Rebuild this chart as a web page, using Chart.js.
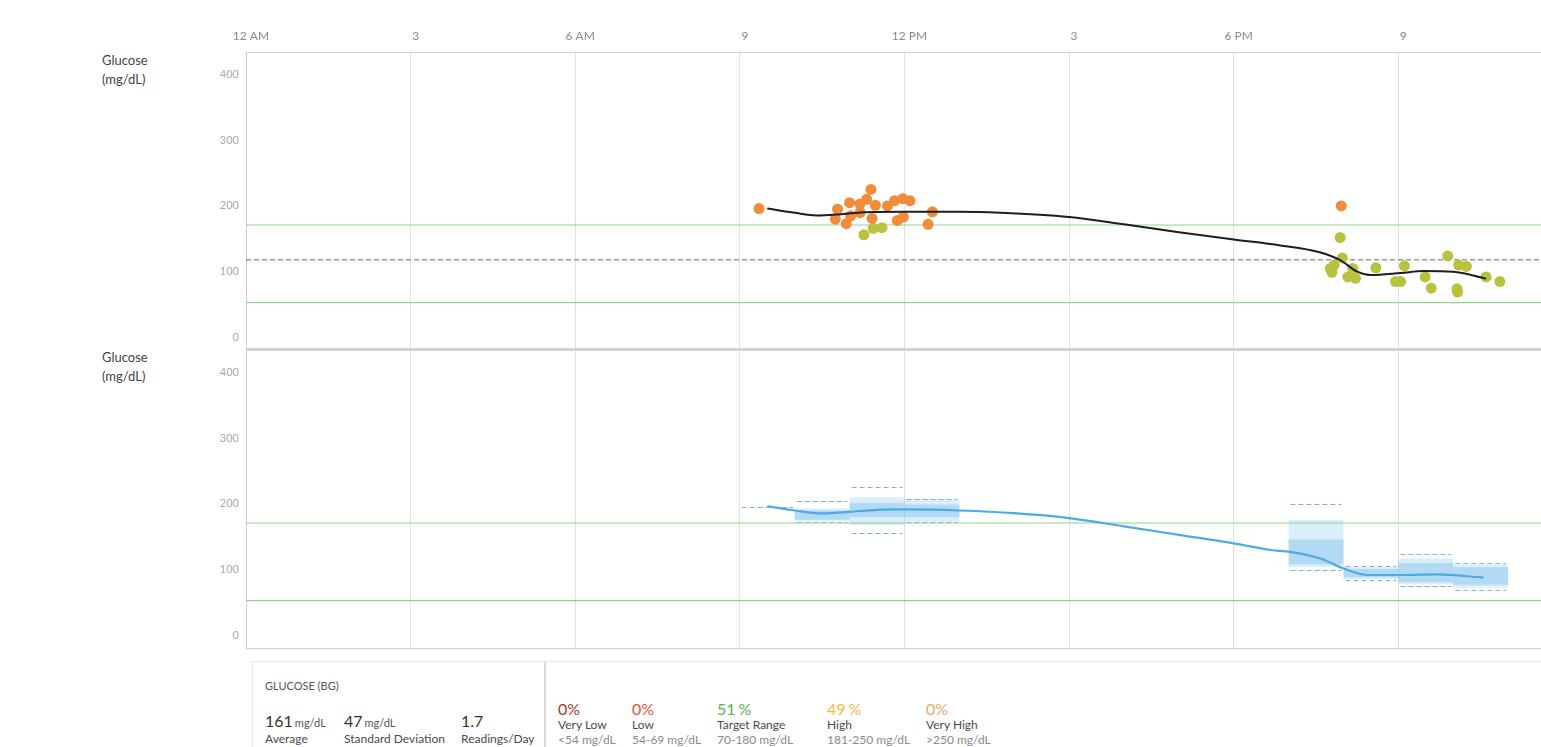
<!DOCTYPE html>
<html>
<head>
<meta charset="utf-8">
<script src="https://cdn.jsdelivr.net/npm/chart.js@4.4.1/dist/chart.umd.min.js"></script>
<style>
  html, body { margin: 0; padding: 0; background: #fff; overflow: hidden; }
  body { width: 1541px; height: 747px; position: relative; font-family: Lato, "Open Sans", sans-serif; }
  .ytitle { position: absolute; left: 102px; font-size: 13px; line-height: 19px; color: #444; }
  #top { position: absolute; left: 0; top: 0; }
  #bottom { position: absolute; left: 0; top: 350px; }
  #sep { position: absolute; left: 246px; top: 348px; width: 1295px; height: 3px; background: #d2d2d2; }
  #panel { position: absolute; left: 252px; top: 661px; width: 1320px; height: 120px; border: 1px solid #e6e6e6; box-shadow: 0 0 3px rgba(0,0,0,0.06); }
  #divider { position: absolute; left: 544px; top: 662px; width: 2px; height: 90px; background: #d9d9d9; }
  .t { position: absolute; white-space: nowrap; }
  .head { font-size: 11px; line-height: 11px; color: #555; }
  .big { font-size: 16px; line-height: 16px; color: #333; }
  .big .u { font-size: 11px; color: #555; margin-left: 2px; }
  .lab { font-size: 12px; line-height: 12px; color: #4a4a4a; }
  .sub { font-size: 12px; line-height: 12px; color: #8a8a8a; }
  .pct { font-size: 16px; line-height: 16px; }
</style>
</head>
<body>
<div class="ytitle" style="top:51px">Glucose<br>(mg/dL)</div>
<div class="ytitle" style="top:348px">Glucose<br>(mg/dL)</div>
<canvas id="top" width="1541" height="350"></canvas>
<canvas id="bottom" width="1541" height="300"></canvas>
<div id="sep"></div>
<div id="panel"></div>
<div id="divider"></div>
<div id="stats"></div>

<script>
// ---- axis ticks ----
const hourTicks = [0, 3, 6, 9, 12, 15, 18, 21];
const hourLabels = ['12 AM', '3', '6 AM', '9', '12 PM', '3', '6 PM', '9'];
const glucoseTicks = [0, 100, 200, 300, 400];

// ---- fingerstick readings (hour of day, mg/dL) ----
const highTimes  = [9.35, 10.74, 10.78, 10.94, 11.0, 11.02, 11.19, 11.19, 11.31, 11.39, 11.41, 11.47, 11.69, 11.82, 11.87, 11.97, 11.98, 12.10, 12.43, 12.51, 19.96];
const highValues = [196, 180, 195, 173, 205, 185, 203, 190, 210, 225, 181, 201, 200, 208, 178, 211, 183, 208, 172, 191, 200];

const inRangeTimes  = [11.26, 11.43, 11.59, 19.76, 19.79, 19.83, 19.94, 19.98, 20.08, 20.17, 20.22, 20.59, 20.95, 21.04, 21.11, 21.49, 21.60, 21.90, 22.07, 22.08, 22.10, 22.24, 22.60, 22.85];
const inRangeValues = [156, 166, 167, 105, 99, 110, 152, 121, 92, 105, 90, 106, 85, 85, 109, 92, 75, 124, 74, 69, 110, 108, 92, 85];

// ---- smoothed daily trend through the readings ----
const trendTimes  = [9.5, 10.0, 10.4, 10.85, 11.3, 12.0, 13.0, 13.75, 15.0, 16.0, 17.0, 18.0, 18.85, 19.55, 19.94, 20.25, 20.49, 21.04, 21.46, 22.0, 22.6];
const trendValues = [196, 189.5, 185.5, 187.5, 190.5, 191, 191, 189.5, 183, 172, 160, 149, 140, 130, 117.6, 100, 95, 98, 101, 100, 89.5];

// ---- hourly distribution (bottom panel) ----
const binStart = [9, 10, 11, 12, 19, 20, 21, 22];
const binMin   = [196, 173, 156, 172, 99, 85, 75, 69];
const binP10   = [196, 174, 168, 173, 104, 86, 78, 73];
const binP25   = [196, 176, 180, 180, 108, 88, 81, 77];
const binP75   = [196, 190, 201, 199, 146, 101, 110, 104];
const binP90   = [196, 193, 210, 207, 176, 104, 117, 108];
const binMax   = [196, 205, 225, 208, 200, 106, 124, 110];

const medianTimes  = [9.5, 10.0, 10.5, 11.0, 11.5, 12.0, 13.0, 14.0, 15.0, 16.0, 17.0, 18.0, 18.67, 19.03, 19.58, 20.0, 20.43, 21.1, 21.7, 22.55];
const medianValues = [196.5, 190, 185.5, 188, 191, 191.6, 190, 186, 178.5, 166, 153, 140, 130, 127, 117, 102, 92, 92, 93, 88];

// ---- target lines (mg/dL) ----
const targetHigh = 171;
const targetLow = 53;
const targetMid = 118;

// ---- summary ----
const statNumbers = ['161', '47', '1.7'];
const statUnits = ['mg/dL', 'mg/dL', ''];
const statNames = ['Average', 'Standard Deviation', 'Readings/Day'];
const rangePercents = [0, 0, 51, 49, 0];
const rangeNames = ['Very Low', 'Low', 'Target Range', 'High', 'Very High'];
const rangeBounds = ['<54 mg/dL', '54-69 mg/dL', '70-180 mg/dL', '181-250 mg/dL', '>250 mg/dL'];

// ---- layout / style ----
const X_MAX = 23.6;
const FONT = 'Lato, "Open Sans", sans-serif';
const ORANGE = '#f08c3a';
const OLIVE = '#b9c23e';
const GREEN_LINE = '#8fd48a';
const BLUE = '#4fa9e3';

const pts = (xs, ys) => xs.map((x, i) => ({ x, y: ys[i] }));
const hline = v => [{ x: 0, y: v }, { x: X_MAX, y: v }];
const noPad = s => { s.paddingTop = 0; s.paddingBottom = 0; s.paddingLeft = 0; s.paddingRight = 0; };

function xScale(headerHeight, position) {
  return {
    type: 'linear', position, min: 0, max: X_MAX,
    afterBuildTicks: s => { s.ticks = hourTicks.map(v => ({ value: v })); },
    afterFit: s => { s.height = headerHeight; noPad(s); },
    grid: { color: '#e2e2e2', lineWidth: 1, drawTicks: false },
    border: { display: true, color: '#cfcfcf', width: 1 },
    ticks: { display: false }
  };
}
function yScale(min) {
  return {
    type: 'linear', min, max: 434,
    afterBuildTicks: s => { s.ticks = glucoseTicks.map(v => ({ value: v })); },
    afterFit: s => { s.width = 246; noPad(s); },
    grid: { color: 'rgba(0,0,0,0)', drawTicks: false },
    border: { display: true, color: '#cfcfcf', width: 1 },
    ticks: { padding: 7, color: '#a8a8a8', font: { family: FONT, size: 11 } }
  };
}
const lineDs = (data, color, width, dash) => ({
  type: 'scatter', data, showLine: true, borderColor: color, borderWidth: width,
  borderDash: dash || [], pointRadius: 0, pointHoverRadius: 0, fill: false
});

const common = {
  responsive: false, animation: false, devicePixelRatio: 1,
  plugins: { legend: { display: false }, tooltip: { enabled: false } },
  events: []
};
const panelLayout = { autoPadding: false, padding: { top: 0, right: 0, bottom: 2, left: 0 } };

// hour labels above the top panel, placed at the x scale's tick positions
const hourHeader = {
  id: 'hourHeader',
  afterDraw(chart) {
    const { ctx, scales: { x } } = chart;
    ctx.save();
    ctx.font = '12px ' + FONT;
    ctx.fillStyle = '#8a8a8a';
    ctx.textAlign = 'center';
    ctx.textBaseline = 'middle';
    hourTicks.forEach((h, i) => ctx.fillText(hourLabels[i], x.getPixelForValue(h) + 5, 36));
    ctx.restore();
  }
};

// top panel: individual readings with trend
new Chart(document.getElementById('top'), {
  type: 'scatter',
  data: {
    datasets: [
      Object.assign(lineDs(pts(trendTimes, trendValues), '#1e1e1e', 2), { cubicInterpolationMode: 'monotone' }),
      { data: pts(highTimes, highValues), backgroundColor: ORANGE, borderWidth: 0, pointRadius: 5.5 },
      { data: pts(inRangeTimes, inRangeValues), backgroundColor: OLIVE, borderWidth: 0, pointRadius: 5.5 },
      lineDs(hline(targetMid), '#6a6a6a', 1, [5, 3]),
      lineDs(hline(targetHigh), GREEN_LINE, 1.2),
      lineDs(hline(targetLow), GREEN_LINE, 1.2)
    ]
  },
  options: Object.assign({}, common, {
    layout: panelLayout,
    scales: { x: xScale(52, 'top'), y: yScale(-16) }
  }),
  plugins: [hourHeader]
});

// bottom panel: hourly ranges drawn through the chart scales
const rangeBoxes = {
  id: 'rangeBoxes',
  beforeDatasetsDraw(chart) {
    const { ctx, chartArea: a, scales: { x, y } } = chart;
    ctx.save();
    ctx.beginPath();
    ctx.rect(a.left, a.top, a.right - a.left, a.bottom - a.top);
    ctx.clip();
    binStart.forEach((h, i) => {
      const x0 = x.getPixelForValue(h), x1 = x.getPixelForValue(h + 1);
      ctx.fillStyle = 'rgba(120,190,238,0.28)';
      ctx.fillRect(x0, y.getPixelForValue(binP90[i]), x1 - x0, y.getPixelForValue(binP10[i]) - y.getPixelForValue(binP90[i]));
      ctx.fillStyle = 'rgba(120,190,238,0.40)';
      ctx.fillRect(x0, y.getPixelForValue(binP75[i]), x1 - x0, y.getPixelForValue(binP25[i]) - y.getPixelForValue(binP75[i]));
      ctx.strokeStyle = '#7fb2d8';
      ctx.lineWidth = 1;
      ctx.setLineDash([5, 3]);
      [binMin[i], binMax[i]].forEach(v => {
        const py = Math.round(y.getPixelForValue(v)) + 0.5;
        ctx.beginPath();
        ctx.moveTo(x0 + 2, py);
        ctx.lineTo(x1 - 2, py);
        ctx.stroke();
      });
    });
    ctx.restore();
  }
};

new Chart(document.getElementById('bottom'), {
  type: 'scatter',
  data: {
    datasets: [
      Object.assign(lineDs(pts(medianTimes, medianValues), BLUE, 2.2), { cubicInterpolationMode: 'monotone' }),
      lineDs(hline(targetHigh), GREEN_LINE, 1.2),
      lineDs(hline(targetLow), GREEN_LINE, 1.2)
    ]
  },
  options: Object.assign({}, common, {
    layout: panelLayout,
    scales: { x: xScale(0, 'bottom'), y: yScale(-19) }
  }),
  plugins: [rangeBoxes]
});

// ---- summary strip ----
const stats = document.getElementById('stats');
function add(cls, left, top, html, color) {
  const d = document.createElement('div');
  d.className = 't ' + cls;
  d.style.left = left + 'px';
  d.style.top = top + 'px';
  if (color) d.style.color = color;
  d.innerHTML = html;
  stats.appendChild(d);
}
add('head', 265, 680, 'GLUCOSE (BG)');
const statX = [265, 344, 461];
statNumbers.forEach((n, i) => {
  add('big', statX[i], 713, n + (statUnits[i] ? '<span class="u">' + statUnits[i] + '</span>' : ''));
  add('lab', statX[i], 733, statNames[i]);
});
const rangeX = [558, 632, 717, 827, 926];
const rangeColors = ['#a03c2e', '#e4513b', '#55b25a', '#f3b943', '#f2a46c'];
rangePercents.forEach((p, i) => {
  add('pct', rangeX[i], 701, p + '<span style="margin-left:' + (p >= 10 ? 3 : 0) + 'px">%</span>', rangeColors[i]);
  add('lab', rangeX[i], 719, rangeNames[i]);
  add('sub', rangeX[i], 734, rangeBounds[i]);
});
</script>
</body>
</html>
